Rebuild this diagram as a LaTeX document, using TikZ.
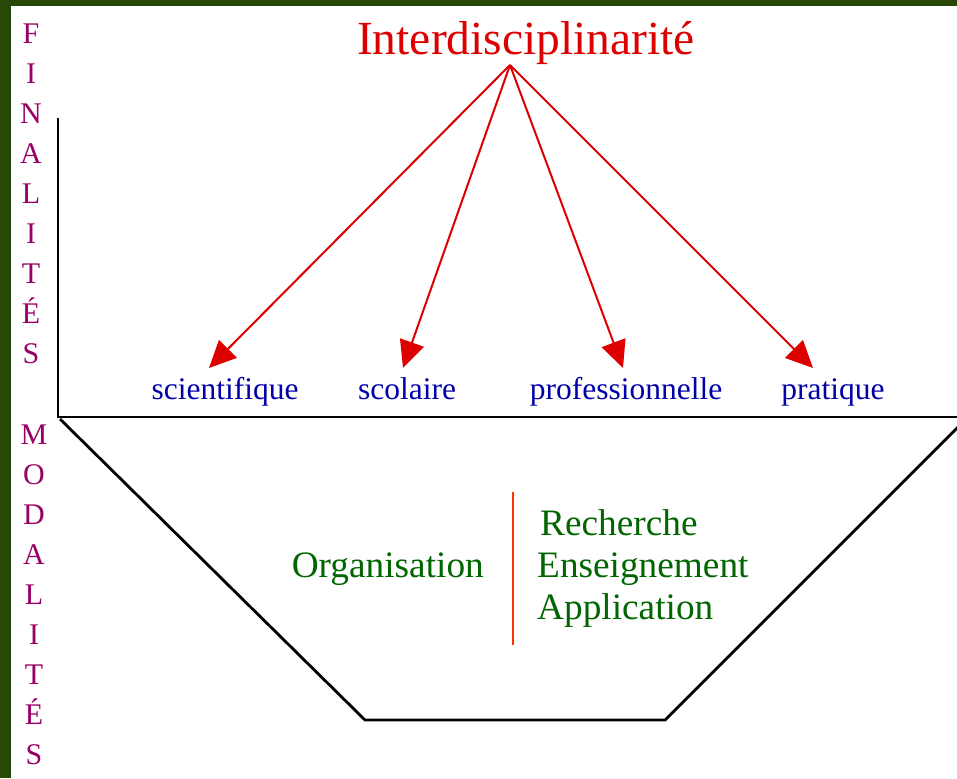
\documentclass[tikz,border=0pt]{standalone}
\usepackage{fontspec}
\setmainfont{Liberation Serif}
\usetikzlibrary{arrows.meta}

\definecolor{fond}{RGB}{40,72,8}
\definecolor{rouge}{RGB}{221,0,0}
\definecolor{bleu}{RGB}{0,0,170}
\definecolor{pourpre}{RGB}{153,0,102}
\definecolor{vert}{RGB}{0,102,0}
\definecolor{orangerouge}{RGB}{255,51,0}

\tikzset{
  fleche/.style={draw=rouge, line width=2pt, -{Triangle[length=27pt,width=25pt]}},
  trait/.style={line width=2.8pt, line join=miter},
  lettres/.style={text=pourpre, font=\fontsize{30}{40}\selectfont, align=center, anchor=north, inner sep=0pt},
  finalite/.style={text=bleu, font=\fontsize{31.5}{36}\selectfont, anchor=base, inner sep=0pt},
  modalite/.style={text=vert, font=\fontsize{37.3}{42}\selectfont, anchor=base west, inner sep=0pt}
}

\begin{document}
\begin{tikzpicture}[x=1pt, y=-1pt]

  \newcommand\LabY{399};

  \useasboundingbox (0,0) rectangle (957,778);
  \fill[fond] (0,0) rectangle (957,778);
  \fill[white] (11,6) rectangle (957,778);

  %% titre et colonnes verticales
  \node[text=rouge, font=\fontsize{47.5}{50}\selectfont, anchor=base, inner sep=0pt]
  (titre) at (526,55) {Interdisciplinarité};
  \node[lettres] (finalites) at (31,24) {F\\I\\N\\A\\L\\I\\T\\É\\S};
  \node[lettres] (modalites) at (34,425) {M\\O\\D\\A\\L\\I\\T\\É\\S};

  %% axes
  \draw[trait] (58,118) -- (58,417) -- (957,417);
  \draw[trait] (60,419) -- (365,720) -- (665,720) -- (965,420);

  %% finalites
  \node[finalite] (scient) at (225,\LabY) {scientifique};
  \node[finalite] (scol)   at (407,\LabY) {scolaire};
  \node[finalite] (prof)   at (626,\LabY) {professionnelle};
  \node[finalite] (prat)   at (833,\LabY) {pratique};

  \coordinate (sommet) at (510,65);
  \coordinate (pScient) at (209,368);
  \coordinate (pScol) at (403,368);
  \coordinate (pProf) at (623,368);
  \coordinate (pPrat) at (813,368);

  \draw[fleche] (sommet) -- (pScient); %% -> scientifique
  \draw[fleche] (sommet) -- (pScol);   %% -> scolaire
  \draw[fleche] (sommet) -- (pProf);   %% -> professionnelle
  \draw[fleche] (sommet) -- (pPrat);   %% -> pratique

  %% modalites
  \node[modalite, anchor=base east] (orga) at (484,577) {Organisation};
  \coordinate (sepHaut) at (513,492);
  \coordinate (sepBas) at (513,645);
  \draw[orangerouge, line width=2pt] (sepHaut) -- (sepBas);

  \node[modalite] (rech) at (540,535) {Recherche};
  \node[modalite] (ens)  at (537,577) {Enseignement};
  \node[modalite] (appl) at (537,619) {Application};

\end{tikzpicture}
\end{document}
